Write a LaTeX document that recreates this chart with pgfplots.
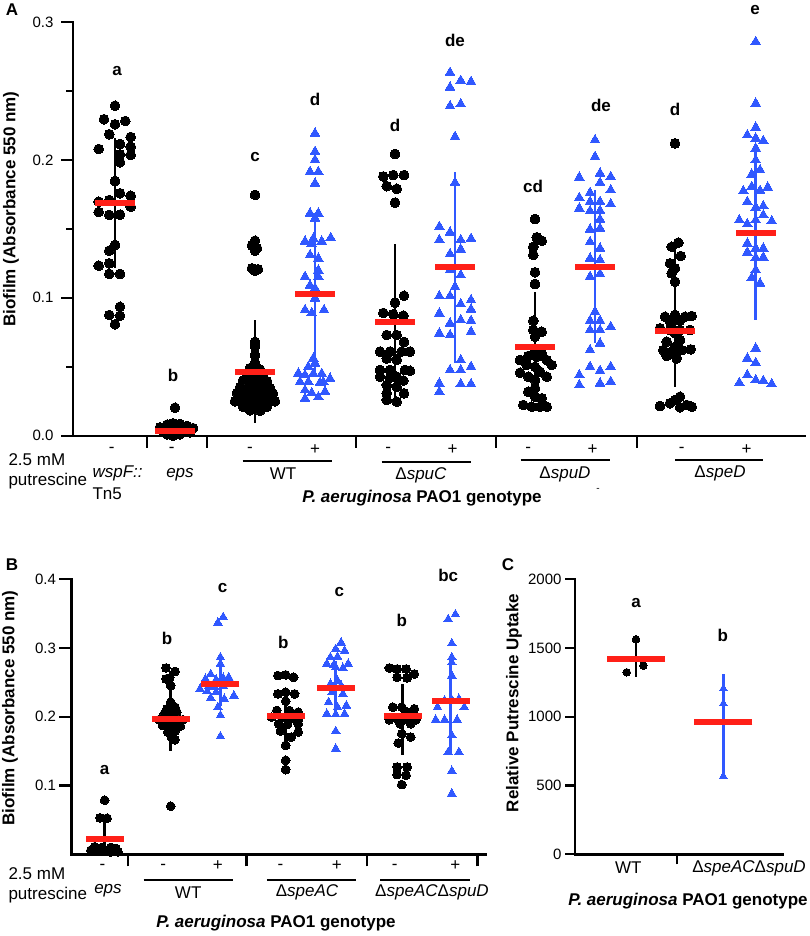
\documentclass[border=0pt]{standalone}
\usepackage{fontspec}
\setmainfont{Liberation Sans}
\usepackage{pgfplots}
\usepackage{pgfplotstable}
\pgfplotsset{compat=1.18}
\definecolor{tri}{RGB}{48,88,255}
\definecolor{mred}{RGB}{255,32,24}

% ---------- panel A: x in picture pixels, y absorbance ----------
\pgfplotstableread{
x y
115 0.2393
104 0.2295
115 0.2258
125.3 0.2282
109.3 0.2186
130.7 0.2166
120 0.2115
130.7 0.2096
98.7 0.2079
120 0.2040
130.7 0.2036
120 0.1983
115 0.1847
120 0.1758
130.7 0.1740
98.7 0.1697
109.3 0.1709
130.7 0.1661
98.7 0.1622
109.3 0.1601
120 0.1603
115 0.1383
109.3 0.1342
98.7 0.1233
109.3 0.1250
109.3 0.1173
120 0.1173
120 0.0935
109.3 0.0875
120 0.0870
115 0.0808
175 0.0203
160 0.0060
167 0.0080
173 0.0090
180 0.0085
187 0.0070
193 0.0055
163 0.0030
170 0.0040
177 0.0030
184 0.0035
190 0.0025
167 0.0010
180 0.0010
173 0.0000
255 0.1746
255 0.1414
252 0.1380
257 0.1359
255 0.1342
252 0.1214
258 0.1207
255 0.1195
255 0.0680
255 0.0645
255 0.0585
255 0.0527
250 0.0490
260 0.0480
247 0.0450
263 0.0440
255 0.0420
243 0.0400
267 0.0395
250 0.0380
260 0.0375
240 0.0350
270 0.0345
247 0.0340
263 0.0335
255 0.0320
237 0.0310
273 0.0305
245 0.0300
265 0.0295
252 0.0290
258 0.0285
240 0.0275
270 0.0270
248 0.0265
262 0.0260
235 0.0250
275 0.0250
245 0.0245
255 0.0240
265 0.0235
250 0.0225
260 0.0220
243 0.0210
267 0.0210
255 0.0200
250 0.0185
260 0.0180
395 0.2043
383.3 0.1880
393.3 0.1890
404 0.1890
386.7 0.1810
396.7 0.1790
395 0.1690
404 0.1015
395 0.0965
383.3 0.0890
393.3 0.0880
403.3 0.0870
386.7 0.0730
396.7 0.0730
404 0.0680
380 0.0610
390 0.0610
401.7 0.0610
410 0.0610
386.7 0.0560
396.7 0.0550
380 0.0476
390 0.0476
405 0.0476
410 0.0470
380 0.0428
390 0.0420
396.7 0.0428
403.3 0.0400
386.7 0.0368
396.7 0.0355
386.7 0.0307
404 0.0307
386.7 0.0259
396.7 0.0247
535 0.1571
536.7 0.1439
541.7 0.1414
533.3 0.1370
533.3 0.1310
535 0.1185
535 0.1100
533.3 0.0834
533.3 0.0767
541.7 0.0754
535 0.0718
535 0.0609
541.7 0.0597
528.3 0.0578
536.7 0.0573
520 0.0549
546.7 0.0549
526.7 0.0513
535 0.0500
551.7 0.0513
520 0.0457
540 0.0464
528.3 0.0428
535 0.0404
546.7 0.0428
535 0.0344
528.3 0.0319
535 0.0283
541.7 0.0271
523.3 0.0223
531.7 0.0210
540 0.0210
546.7 0.0210
675 0.2120
671.7 0.1370
678.3 0.1400
680.7 0.1303
670 0.1250
675 0.1214
671.7 0.1178
675 0.1117
665 0.0863
675 0.0875
685 0.0863
691.7 0.0868
670 0.0827
680 0.0834
660 0.0779
670 0.0767
680 0.0767
690 0.0767
675 0.0743
666.7 0.0682
680 0.0694
675 0.0645
663.3 0.0621
671.7 0.0609
681.7 0.0621
690.7 0.0626
666.7 0.0578
676.7 0.0561
660 0.0215
670 0.0235
675 0.0259
680 0.0283
686.7 0.0223
691.7 0.0210
680 0.0206
}\Acirc

\pgfplotstableread{
x y
315 0.2193
315 0.2060
315 0.2000
310 0.1914
318.3 0.1914
315 0.1830
310 0.1613
318.3 0.1613
315 0.1577
305 0.1410
313.3 0.1430
321.7 0.1410
330.7 0.1435
311.7 0.1390
310 0.1310
318.3 0.1286
318.3 0.1200
305 0.1153
318.3 0.1153
310 0.1090
315 0.1070
315 0.0996
305 0.0912
311.7 0.0890
324 0.0912
313.3 0.0561
315 0.0525
308.3 0.0500
298.3 0.0452
305 0.0440
313.3 0.0450
321.7 0.0450
330 0.0415
300 0.0390
308.3 0.0390
320 0.0385
323.3 0.0390
305 0.0330
311.7 0.0310
325 0.0320
305 0.0270
318.3 0.0280
450 0.2633
450 0.2527
460.7 0.2575
471 0.2567
450 0.2390
460.7 0.2405
455 0.2168
455 0.1835
439.3 0.1516
450 0.1475
460.7 0.1420
471 0.1429
439.3 0.1420
460.7 0.1352
450 0.1318
450 0.1202
460.7 0.1165
455 0.1080
439.3 0.1013
450 0.1013
460.7 0.0955
471 0.0984
471 0.0917
439.3 0.0888
460.7 0.0839
471 0.0834
450 0.0815
439.3 0.0743
450 0.0730
471 0.0754
460.7 0.0549
450 0.0476
460.7 0.0476
471 0.0500
439.3 0.0380
460.7 0.0375
471 0.0375
439.3 0.0319
595 0.2144
595 0.2023
579.3 0.1874
600 0.1903
610.7 0.1878
600 0.1835
590 0.1762
610.7 0.1782
579.3 0.1726
590 0.1697
600 0.1697
610.7 0.1680
579.3 0.1649
590 0.1630
600 0.1632
600 0.1569
590 0.1497
600 0.1504
590 0.1405
600 0.1359
590 0.1286
600 0.1274
590 0.1153
600 0.1173
595 0.0899
590 0.0834
600 0.0834
610.7 0.0790
590 0.0767
600 0.0767
600 0.0670
590 0.0621
590 0.0500
600 0.0471
610.7 0.0500
579.3 0.0440
600 0.0380
610.7 0.0392
579.3 0.0368
755.7 0.2857
755.7 0.2410
755.7 0.2236
747.3 0.2180
755.7 0.2157
763.3 0.2139
755.7 0.2084
755.7 0.1999
760 0.1927
751.7 0.1896
743.3 0.1775
751.7 0.1806
760 0.1777
767.7 0.1801
747.3 0.1697
755.7 0.1656
763.3 0.1666
763.3 0.1600
739.3 0.1564
747.3 0.1535
755.7 0.1564
771.7 0.1557
747.3 0.1395
755.7 0.1359
763.3 0.1359
747.3 0.1330
755.7 0.1291
763.3 0.1294
755.7 0.1202
751.7 0.1146
760 0.1105
755.7 0.0634
747.3 0.0561
755.7 0.0529
739.3 0.0384
747.3 0.0440
755.7 0.0404
763.3 0.0399
771.7 0.0375
}\Atri

% x, mean (red bar), lower and upper end of the error bar
\pgfplotstableread{
x m lo hi
115 0.1685 0.1214 0.2157
175 0.0036 0.0010 0.0062
255 0.0464 0.0090 0.0839
395 0.0827 0.0260 0.1390
535 0.0645 0.0245 0.1044
675 0.0759 0.0355 0.1395
}\Asumk
\pgfplotstableread{
x m lo hi
315 0.1025 0.0460 0.1610
455 0.1226 0.0529 0.1914
595 0.1226 0.0670 0.1782
755.7 0.1472 0.0839 0.2084
}\Asumb

% ---------- panel B ----------
\pgfplotstableread{
x y
104.6 0.0787
100 0.0530
107 0.0525
94.6 0.0110
101.8 0.0100
110.7 0.0100
116 0.0085
91 0.0060
98 0.0055
107 0.0055
114 0.0055
103.6 0.0040
110.7 0.0035
117.9 0.0035
166 0.2710
175 0.2660
166 0.2550
169.6 0.2565
170.7 0.2454
170.7 0.2213
167.1 0.2116
175 0.2140
164.3 0.2043
170.7 0.2068
176.8 0.2068
159 0.1957
166 0.1947
174.3 0.1957
182.9 0.1957
162.5 0.1874
171.4 0.1874
180.4 0.1865
167.9 0.1778
175 0.1792
171.4 0.1705
175 0.1667
170.7 0.0700
277.9 0.2600
285.7 0.2610
293.6 0.2575
277.9 0.2333
285.7 0.2357
294.6 0.2333
285.7 0.2227
276.8 0.2092
289.3 0.2092
298.2 0.2068
271.4 0.1995
282.1 0.1986
291.1 0.1971
298.2 0.1957
278.6 0.1899
287.5 0.1889
298.2 0.1899
280.4 0.1792
298.2 0.1778
291.1 0.1705
285.7 0.1585
285.7 0.1367
285.7 0.1232
389.3 0.2710
397.1 0.2696
406.1 0.2696
414.3 0.2623
397.1 0.2575
407.1 0.2565
392.9 0.2140
401.8 0.2140
414.3 0.2116
407.1 0.2068
389.3 0.1957
398.2 0.1957
407.1 0.1957
416.1 0.1957
400 0.1899
410.7 0.1899
401.8 0.1754
410.7 0.1705
398.2 0.1618
397.1 0.1270
407.1 0.1270
397.1 0.1160
406.1 0.1150
401.8 0.1014
}\Bcirc

\pgfplotstableread{
x y
217.9 0.3370
223.2 0.3450
220.4 0.2865
220.4 0.2770
210.7 0.2620
228.6 0.2575
205.4 0.2550
216.1 0.2540
223.2 0.2565
230.4 0.2527
208.9 0.2454
214.3 0.2440
223.2 0.2454
200 0.2406
207.1 0.2370
216.1 0.2357
233.9 0.2309
210.7 0.2275
224.3 0.2260
217.9 0.2140
220.4 0.2020
220.4 0.1715
341.1 0.3080
335.7 0.2986
344.6 0.2960
330.4 0.2865
337.5 0.2874
326.8 0.2770
333.9 0.2758
348.2 0.2770
335.7 0.2720
342.9 0.2710
337.5 0.2527
330.4 0.2478
341.1 0.2454
332.1 0.2357
342.9 0.2333
328.6 0.2213
337.5 0.2140
346.4 0.2164
326.8 0.2043
335.7 0.2034
344.6 0.2043
335.7 0.1792
335.7 0.1536
448.2 0.3420
455.4 0.3490
451.8 0.3068
451.8 0.2865
451.8 0.2790
451.8 0.2600
444.6 0.2237
451.8 0.2246
458.9 0.2261
437.5 0.2140
464.3 0.2140
435.7 0.1957
444.6 0.1957
457.1 0.1957
451.8 0.1730
448.2 0.1488
458.9 0.1488
451.8 0.1213
451.8 0.0884
}\Btri

\pgfplotstableread{
x m lo hi
104.6 0.0217 0.0000 0.0480
170.7 0.1966 0.1500 0.2670
285.7 0.2014 0.1560 0.2406
402.5 0.2019 0.1440 0.2478
}\Bsumk
\pgfplotstableread{
x m lo hi
220.4 0.2478 0.2164 0.2903
335.7 0.2415 0.1995 0.2816
450.7 0.2237 0.1460 0.2874
}\Bsumb

% ---------- panel C ----------
\pgfplotstableread{
x y
636 1563.6
626.7 1323.6
643.3 1372
}\Ccirc
\pgfplotstableread{
x y
723.3 1207
723.3 1098
723.3 570
}\Ctri
\pgfplotstableread{
x m lo hi
636 1420.6 1287 1546.7
}\Csumk
\pgfplotstableread{
x m lo hi
723.3 965 565 1309
}\Csumb

\pgfplotsset{
  panel/.style={
    scale only axis, anchor=south west, clip=false,
    axis lines*=left,
    axis line style={line width=2.4pt, line cap=rect},
    tick style={black, line width=2.2pt},
    tick align=outside,
    major tick length=12pt,
    xticklabels={},
    ticklabel style={font=\fontsize{15}{18}\selectfont},
    /pgf/number format/assume math mode=true,
  },
  dots/.style={only marks, mark=*, mark size=#1,
    mark options={fill=black, draw=black, line width=0pt}},
  tris/.style={only marks, mark=triangle*, mark size=#1,
    mark options={fill=tri, draw=tri, line width=0pt}},
  ebar/.style={only marks, mark=none, forget plot,
    error bars/.cd, y dir=both, y explicit, error mark=none,
    error bar style={#1, line width=2.6pt}},
  mbar/.style={only marks, mark=-, mark size=#1,
    mark options={draw=mred, line width=6pt}},
}
\tikzset{sig/.style={font=\fontsize{17}{20}\selectfont\bfseries}}
\newcommand{\lab}{\fontsize{17}{20}\selectfont}

\begin{document}
\begin{tikzpicture}
\path[use as bounding box] (0,0) rectangle (810pt,-936pt);

% ================= A =================
\begin{axis}[panel, at={(73pt,-435.7pt)}, width=732pt, height=413.7pt,
  xmin=73, xmax=805, ymin=0, ymax=0.3,
  xtick={147,207,356,496,637},
  ytick={0,0.1,0.2,0.3}, minor ytick={0.05,0.15,0.25}, minor tick length=7pt,
  yticklabel style={xshift=-4pt, /pgf/number format/.cd, fixed, fixed zerofill, precision=1}]
\addplot[dots=4.9pt] table {\Acirc};
\addplot[tris=5.6pt] table {\Atri};
\addplot[ebar=black] table[x=x, y=m, y error plus expr=\thisrow{hi}-\thisrow{m},
  y error minus expr=\thisrow{m}-\thisrow{lo}] {\Asumk};
\addplot[ebar=tri] table[x=x, y=m, y error plus expr=\thisrow{hi}-\thisrow{m},
  y error minus expr=\thisrow{m}-\thisrow{lo}] {\Asumb};
\addplot[mbar=20pt] table[x=x, y=m] {\Asumk};
\addplot[mbar=20pt] table[x=x, y=m] {\Asumb};
\node[sig] at (axis cs:117,0.2647) {a};
\node[sig] at (axis cs:173,0.0435) {b};
\node[sig] at (axis cs:255,0.2023) {c};
\node[sig] at (axis cs:315,0.2440) {d};
\node[sig] at (axis cs:395,0.2253) {d};
\node[sig] at (axis cs:455,0.2864) {de};
\node[sig] at (axis cs:533,0.1810) {cd};
\node[sig] at (axis cs:601,0.2396) {de};
\node[sig] at (axis cs:675,0.2367) {d};
\node[sig] at (axis cs:755,0.3087) {e};
\end{axis}

% ================= B =================
\begin{axis}[panel, at={(71.4pt,-854.3pt)}, width=414.3pt, height=275pt,
  xmin=71.4, xmax=485.7, ymin=0, ymax=0.4,
  xtick={127.9,246.4,366.8,477.5},
  ytick={0.1,0.2,0.3,0.4},
  yticklabel style={/pgf/number format/.cd, fixed, fixed zerofill, precision=1}]
\addplot[dots=4.4pt] table {\Bcirc};
\addplot[tris=5pt] table {\Btri};
\addplot[ebar=black] table[x=x, y=m, y error plus expr=\thisrow{hi}-\thisrow{m},
  y error minus expr=\thisrow{m}-\thisrow{lo}] {\Bsumk};
\addplot[ebar=tri] table[x=x, y=m, y error plus expr=\thisrow{hi}-\thisrow{m},
  y error minus expr=\thisrow{m}-\thisrow{lo}] {\Bsumb};
\addplot[mbar=19pt] table[x=x, y=m] {\Bsumk};
\addplot[mbar=19pt] table[x=x, y=m] {\Bsumb};
\node[sig] at (axis cs:104.6,0.123) {a};
\node[sig] at (axis cs:167.1,0.314) {b};
\node[sig] at (axis cs:222.5,0.388) {c};
\node[sig] at (axis cs:283.2,0.308) {b};
\node[sig] at (axis cs:339.3,0.382) {c};
\node[sig] at (axis cs:401.8,0.3396) {b};
\node[sig] at (axis cs:448.2,0.405) {bc};
\end{axis}

% ================= C =================
\begin{axis}[panel, at={(575pt,-854.3pt)}, width=207.7pt, height=275pt,
  xmin=575, xmax=782.7, ymin=0, ymax=2000,
  xtick={677}, major tick length=10pt,
  ytick={0,500,1000,1500,2000},
  yticklabel style={/pgf/number format/.cd, fixed, 1000 sep={}}]
\addplot[dots=3.8pt] table {\Ccirc};
\addplot[tris=4.3pt] table {\Ctri};
\addplot[ebar=black] table[x=x, y=m, y error plus expr=\thisrow{hi}-\thisrow{m},
  y error minus expr=\thisrow{m}-\thisrow{lo}] {\Csumk};
\addplot[ebar=tri] table[x=x, y=m, y error plus expr=\thisrow{hi}-\thisrow{m},
  y error minus expr=\thisrow{m}-\thisrow{lo}] {\Csumb};
\addplot[mbar=29pt] table[x=x, y=m] {\Csumk};
\addplot[mbar=29pt] table[x=x, y=m] {\Csumb};
\node[sig] at (axis cs:636,1830) {a};
\node[sig] at (axis cs:722.7,1590) {b};
\end{axis}

% ================= labels (picture pixels) =================
\begin{scope}[x=1pt, y=-1pt]
\node[sig] at (12,10) {A};
\node[sig] at (12,565) {B};
\node[sig] at (508,565) {C};
\node[sig, rotate=90] at (11,209) {Biofilm (Absorbance 550 nm)};
\node[sig, rotate=90] at (10,708) {Biofilm (Absorbance 550 nm)};
\node[sig, rotate=90] at (514,703) {Relative Putrescine Uptake};

% A bottom
\begin{scope}[every node/.style={font=\lab}]
\foreach \xx in {111.7,171.7,250,388.3,528.3,681.7} \node at (\xx,450) {-};
\foreach \xx in {315,452.7,592.7,746.7} \node at (\xx,450) {+};
\node[anchor=west] at (5,460) {2.5 mM};
\node[anchor=west] at (5,481) {putrescine};
\node[anchor=west] at (89,473) {\itshape wspF::};
\node[anchor=west] at (89,494) {Tn5};
\node at (180,475) {\itshape eps};
\node at (283,474) {WT};
\node at (421,475) {Δ\textit{spuC}};
\node at (565,474) {Δ\textit{spuD}};
\node at (720,473) {Δ\textit{speD}};
\node[font=\lab\bfseries] at (422,498) {\textit{P. aeruginosa} PAO1 genotype};
\node[font=\fontsize{10}{12}\selectfont] at (598,490) {-};
% B bottom
\foreach \xx in {102.5,163.2,280.4,394.6} \node at (\xx,867) {-};
\foreach \xx in {217.9,336.8,455.4} \node at (\xx,866) {+};
\node[anchor=west] at (5,874) {2.5 mM};
\node[anchor=west] at (5,895) {putrescine};
\node at (108,891) {\itshape eps};
\node at (188.2,893) {WT};
\node at (307,892) {Δ\textit{speAC}};
\node at (432,892) {Δ\textit{speAC}Δ\textit{spuD}};
\node[font=\lab\bfseries] at (276,923) {\textit{P. aeruginosa} PAO1 genotype};
% C bottom
\node at (628.3,868) {WT};
\node at (749,868) {Δ\textit{speAC}Δ\textit{spuD}};
\node[font=\lab\bfseries] at (688,901) {\textit{P. aeruginosa} PAO1 genotype};
\end{scope}
\draw[line width=2pt] (242.7,460.5) -- (331.7,460.5);
\draw[line width=2pt] (381.7,461.5) -- (471,461.5);
\draw[line width=2pt] (520.7,460) -- (610,460);
\draw[line width=2pt] (675,459.5) -- (763.3,459.5);
\draw[line width=2pt] (143.5,880) -- (232.8,880);
\draw[line width=2pt] (266.8,880) -- (356.4,880);
\draw[line width=2pt] (380.4,880) -- (469.6,880);
\end{scope}
\end{tikzpicture}
\end{document}
